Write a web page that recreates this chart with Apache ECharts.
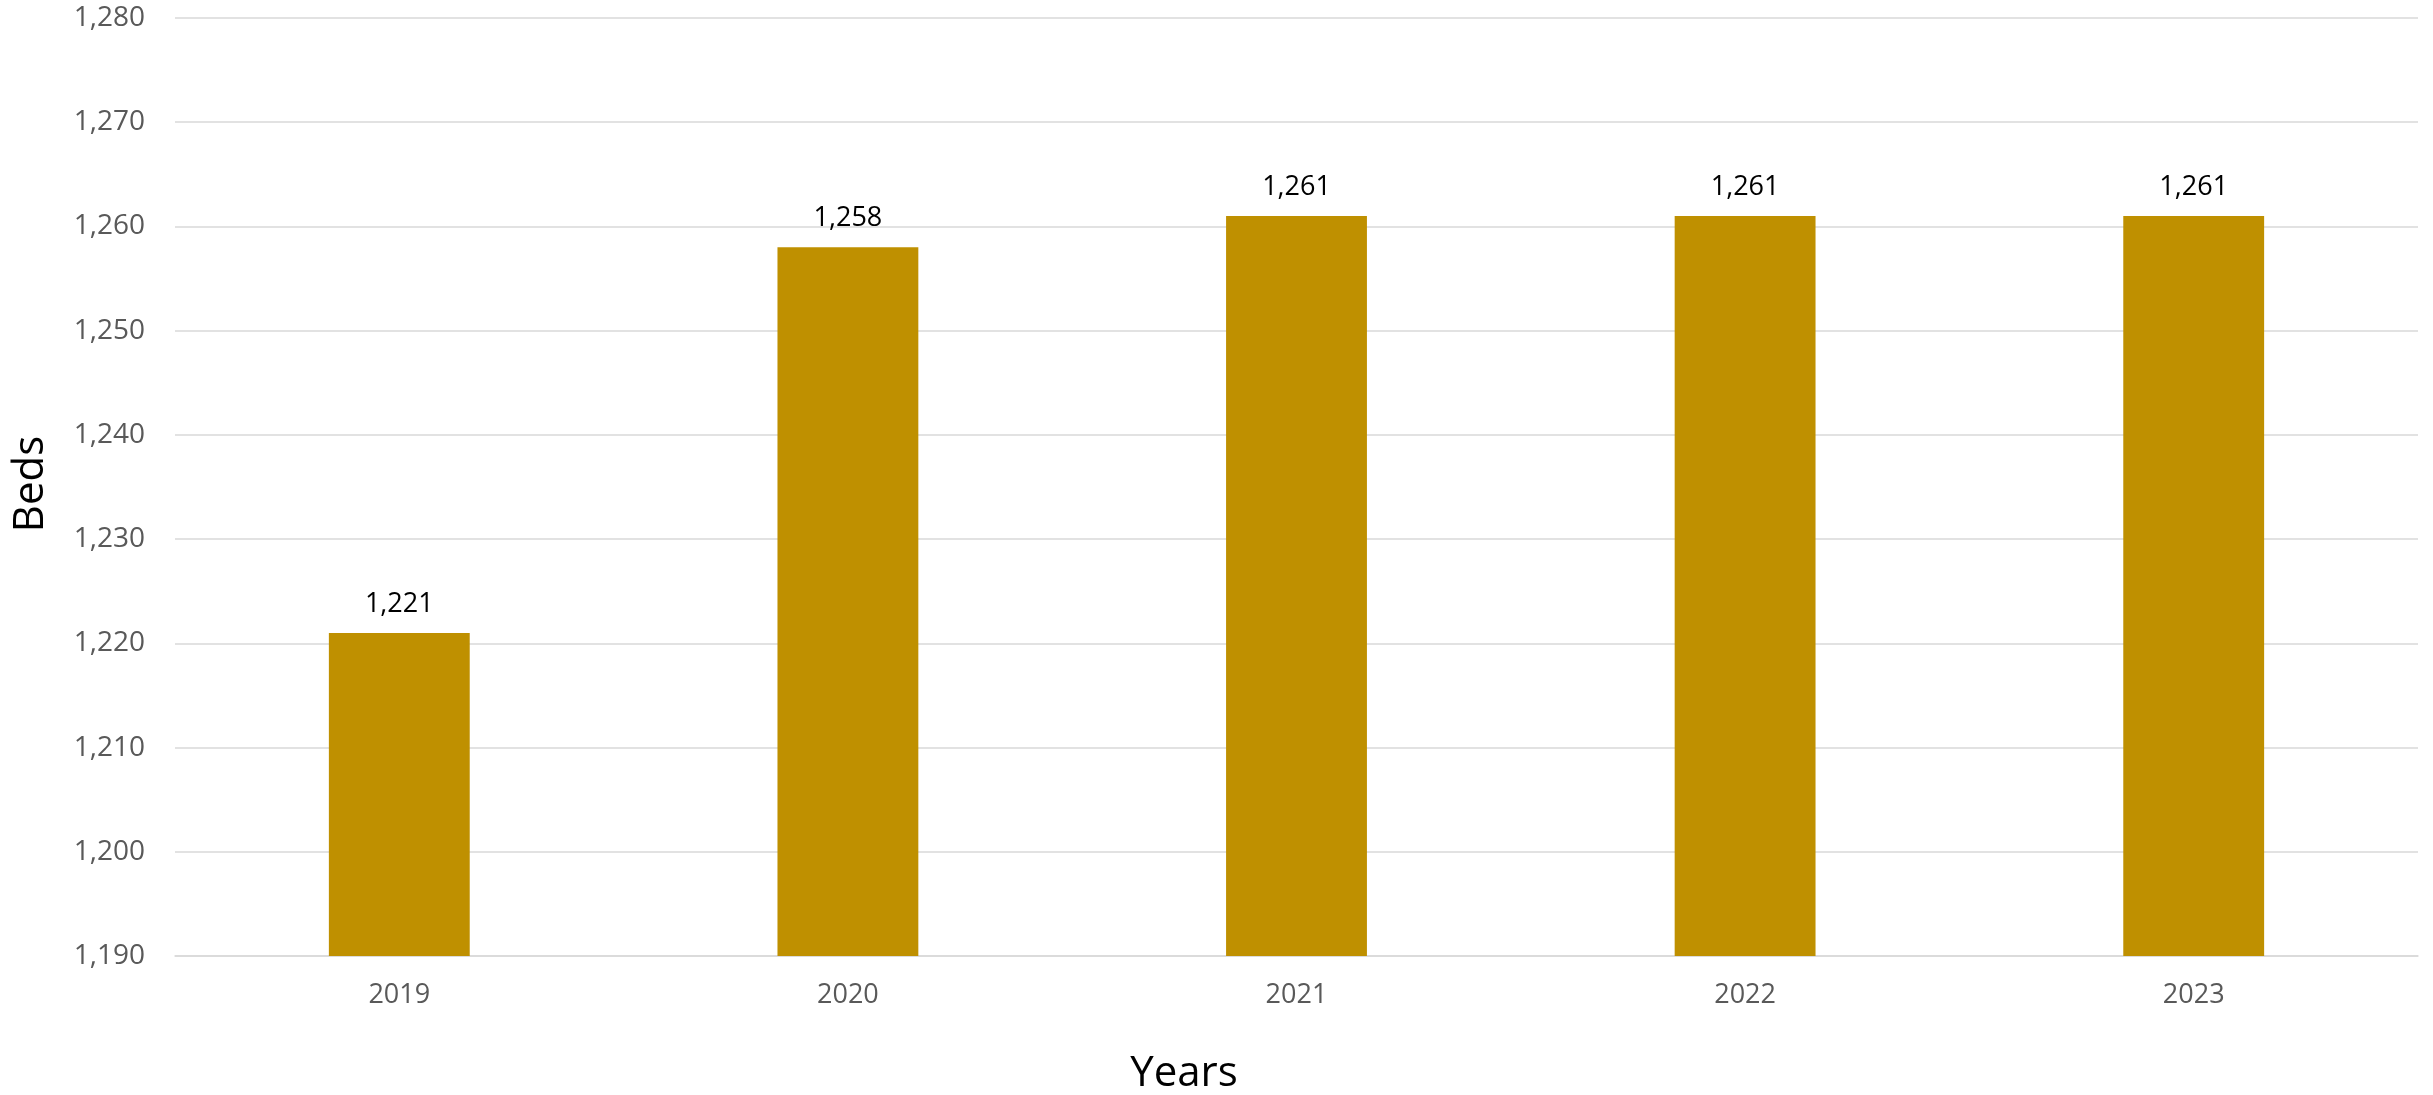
<!DOCTYPE html>
<html>
<head>
<meta charset="utf-8">
<script src="https://cdn.jsdelivr.net/npm/echarts@6/dist/echarts.min.js"></script>
<style>
html,body{margin:0;padding:0;background:#fff;}
#chart{width:2433px;height:1095px;}
</style>
</head>
<body>
<div id="chart"></div>
<script>
var categories = ['2019', '2020', '2021', '2022', '2023'];
var beds = [1221, 1258, 1261, 1261, 1261];
var yMin = 1190, yMax = 1280, yStep = 10;

var fontFam = '"Open Sans", "Noto Sans", sans-serif';
function fmt(v){ return String(v).replace(/\B(?=(\d{3})+(?!\d))/g, ','); }

var chart = echarts.init(document.getElementById('chart'));
chart.setOption({
  backgroundColor: '#ffffff',
  animation: false,
  grid: { left: 175, right: 15, top: 18, bottom: 139, containLabel: false },
  xAxis: {
    type: 'category',
    data: categories,
    axisLine: { show: true, lineStyle: { color: '#d9d9d9', width: 1.5 } },
    axisTick: { show: false },
    axisLabel: { color: '#595959', fontSize: 27, fontFamily: fontFam, margin: 26 }
  },
  yAxis: {
    type: 'value',
    min: yMin, max: yMax, interval: yStep,
    axisLine: { show: false },
    axisTick: { show: false },
    splitLine: { lineStyle: { color: '#d9d9d9', width: 1.5 } },
    axisLabel: { color: '#595959', fontSize: 28, fontFamily: fontFam, margin: 30, formatter: fmt }
  },
  graphic: [
    { type: 'text', x: 1184, y: 1074,
      style: { text: 'Years', font: '42px ' + fontFam, fill: '#000000', align: 'center', verticalAlign: 'middle' } },
    { type: 'text', x: 31, y: 484, rotation: Math.PI / 2,
      style: { text: 'Beds', font: '42px ' + fontFam, fill: '#000000', align: 'center', verticalAlign: 'middle' } }
  ],
  series: [{
    type: 'bar',
    data: beds,
    barWidth: '31.4%',
    itemStyle: { color: '#BF9000' },
    label: { show: true, position: 'top', distance: 15, color: '#000000', fontSize: 27, fontFamily: fontFam, formatter: function(p){ return fmt(p.value); } }
  }]
});
</script>
</body>
</html>
